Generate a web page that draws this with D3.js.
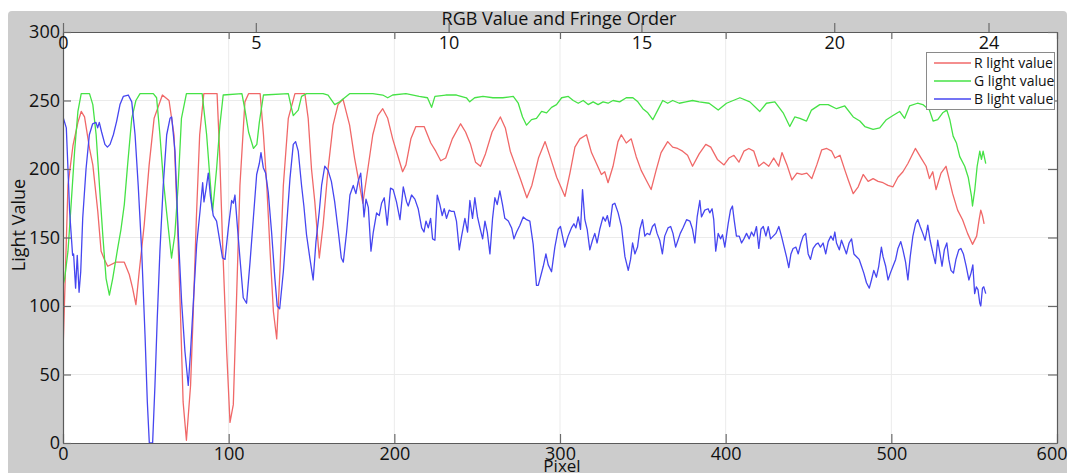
<!DOCTYPE html>
<html>
<head>
<meta charset="utf-8">
<script src="https://cdn.jsdelivr.net/npm/d3@7"></script>
<style>
  body { margin: 0; background: #fff; }
  svg { display: block; font-family: "Open Sans", sans-serif; }
</style>
</head>
<body>
<div id="chart"></div>
<script>
// [pixel, light value]
const redData = [[0,66],[3,188],[6,217],[9,234],[11,242],[13,238],[16,215],[18,203],[21,169],[23,140],[25,134],[27,129],[32,132],[37,132],[40,123],[42,113],[44,101],[46,125],[49,159],[52,203],[55,237],[60,254],[64,250],[67,225],[69,164],[71,91],[72.5,30],[74.5,2],[77,42],[78.5,91],[80.5,164],[82.5,225],[85,255],[93,255],[94.5,213],[96.5,140],[98.8,67],[100.8,15],[102.8,28],[104.4,91],[106.8,188],[109.8,249],[112,255],[119,255],[121,225],[123,188],[125,140],[127,96],[129,76],[131,127],[133,188],[136,237],[140,255],[146,255],[148,237],[150,200],[152,176],[154.7,135],[157,159],[160,200],[163,232],[166,247],[169,251],[173,232],[176,208],[179,188],[181,175],[184,200],[187,225],[190,239],[193,244],[196,237],[199,222],[202,210],[205,198],[207,203],[210,222],[213,231],[218,231],[220,225],[222,219],[225,213],[228,206],[231,208],[235,222],[240,233],[243,227],[246,218],[249,205],[252,202],[255,211],[259,227],[264,238],[267,230],[270,213],[273,203],[276,193],[280,179],[283,188],[287,208],[291,220],[294,209],[298,194],[303,180],[306,197],[309,216],[312,222],[316,225],[319,212],[322,204],[325,196],[327,198],[329,190],[332,202],[335,220],[337,225],[340,219],[343,222],[346,209],[349,199],[352,192],[355,185],[358,199],[361,212],[365,220],[368,216],[371,215],[374,213],[377,210],[380,202],[384,211],[388,218],[391,216],[395,207],[399,203],[402,208],[405,210],[408,205],[411,213],[414,215],[417,213],[420,202],[423,205],[426,202],[429,208],[432,202],[434,212],[437,203],[440,192],[443,197],[446,196],[449,197],[452,193],[455,203],[458,214],[461,215],[464,213],[466,208],[469,210],[472,199],[474,192],[477,182],[480,187],[483,196],[486,191],[489,193],[492,191],[495,190],[498,188],[501,187],[504,194],[507,198],[510,204],[514.5,215],[518,208],[521,202],[523,193],[525,198],[527,185],[530,197],[533,202],[535,192],[537,182],[540,170],[543,163],[546,153],[549,145],[551.5,151],[553,163],[554,170],[555,166],[556,160]];

const greenData = [[0,115],[1,120],[3,140],[5,176],[7,213],[9,242],[11,255],[16,255],[18,247],[20,225],[22,188],[24,152],[26,120],[28,108],[30,120],[33,142],[35,156],[37,174],[39,203],[41.5,237],[44,250],[46.5,255],[54.5,255],[56.5,252],[58.5,225],[60.5,193],[62.5,169],[65.5,135],[67.5,152],[69.5,188],[71.5,237],[74.5,255],[84,255],[86.7,225],[88.7,193],[90.3,169],[92.7,200],[94.7,232],[96.7,254],[108,255],[110,242],[112,227],[115,215],[117,218],[118.5,234],[121,254],[136,255],[138,244],[139,239],[142,243],[144,253],[147,255],[157,255],[160,254],[164,247],[167,249],[170,252],[173,255],[187,255],[193,254],[196,252],[199,254],[207,255],[215,253],[220,252],[222.5,245],[224.5,253],[231,254],[237.5,254],[243.5,252],[245.5,249],[248.5,252],[253.5,253],[259.5,252],[265.5,252],[271.8,253],[274.8,248],[277.4,238],[279.8,232],[282.8,236],[285.8,237],[288.9,242],[291.9,241],[294.9,245],[297.9,247],[301,252],[305,253],[308,250],[311,248],[314,250],[317,247],[320,249],[323,247],[326,249],[329,248],[332,250],[336,249],[340,252],[344,252],[347,249],[350,244],[353,241],[356,236],[359,243],[362,250],[365,248],[368,250],[372,248],[376,249],[380,250],[384,249],[390,248],[395.5,243],[400.5,248],[408.6,252],[414.6,249],[420.6,242],[424.6,248],[429.7,249],[434.7,241],[438.7,231],[441.7,238],[444.8,237],[448.8,235],[451.8,243],[456.8,247],[461.9,247],[466.9,244],[471.9,246],[477,238],[481,235],[484,231],[489,229],[493,230],[497,236],[501,239],[505,242],[508,237],[511,246],[515.8,248],[519,247],[523,243],[525.2,235],[528,236],[531,241],[533.5,243],[535.3,236],[537.3,224],[539.3,219],[541.3,209],[544.3,202],[546.4,194],[548.4,180],[549,173],[550.4,185],[551.8,202],[553.4,213],[554.4,207],[555.4,213],[557,204]];

const blueData = [[0,238],[2,230],[3,200],[4,169],[5.8,137],[6.4,138],[7.6,113],[8.6,137],[9.7,110],[10.7,125],[11.9,164],[13.9,200],[15.9,225],[17.9,233],[19.9,234],[20.9,230],[21.9,234],[23.3,227],[25.3,218],[26.8,216],[28.4,218],[30.4,225],[32.4,235],[34.4,247],[36.4,253],[39.4,254],[41.5,249],[43.5,225],[45.4,188],[47.5,140],[49.5,79],[50.9,30],[52.1,0],[54.1,0],[55.5,42],[56.9,91],[58.5,140],[60.5,188],[62.6,225],[64.6,237],[65.6,238],[67.6,213],[69.6,152],[71.6,103],[73.6,67],[75.6,42],[77,67],[78.7,103],[80.7,145],[82.7,169],[84.3,190],[85.1,176],[86.3,185],[87.7,197],[89,180],[90.7,166],[92.7,162],[94.7,147],[96.3,135],[97.8,134],[99.8,157],[101.8,177],[102.8,175],[103.8,181],[105.2,159],[106.8,135],[108.8,106],[110.8,102],[112.9,132],[114.9,164],[116.9,196],[118.5,204],[119.5,212],[120.9,201],[122.3,197],[123.9,183],[125.9,154],[127.9,120],[129.3,100],[130.8,98],[133,125],[135,159],[137,193],[139,218],[140.4,220],[142,213],[144,188],[145.4,173],[147,152],[149,135],[151,119],[152.7,147],[154.7,169],[156.1,188],[158,202],[160,199],[162,191],[164,176],[166.2,154],[168,135],[169.2,132],[171.2,154],[173.2,181],[175.2,188],[176.8,182],[178.2,191],[179.7,197],[180.9,179],[181.7,165],[182.9,178],[184.3,172],[185.9,140],[187.3,154],[189.3,168],[190.9,166],[192.3,175],[193.9,179],[195.7,159],[197.7,186],[199.3,185],[201.3,176],[203.4,163],[205.4,187],[207.4,176],[208.4,173],[210.4,181],[212.4,178],[214.4,171],[216.5,157],[217.9,154],[219.1,162],[220.5,157],[221.9,164],[223.1,149],[224.5,148],[225.9,181],[227.5,174],[228.9,166],[230.1,171],[231.5,164],[233.1,170],[234.5,169],[236.1,169],[237.5,162],[239.2,141],[240.6,151],[242.6,164],[244.2,154],[245.6,177],[247.2,164],[248.6,179],[250.2,165],[251.7,157],[253.3,149],[254.7,162],[256.1,154],[257.7,138],[259.3,164],[260.7,179],[262.1,174],[263.7,184],[265.3,174],[266.7,164],[268.8,162],[270.8,157],[272.2,149],[273.8,154],[275.8,159],[277.8,165],[279.8,163],[281.8,162],[283.8,145],[285.8,115],[286.9,115],[289.9,129],[291.5,138],[292.9,130],[294.9,125],[296.9,143],[298.9,156],[300.3,158],[301.5,151],[302.9,143],[304.9,151],[306.9,157],[308.4,160],[309.6,157],[311,165],[312.4,156],[313.6,185],[315,163],[316.4,156],[318,141],[319.6,148],[321,153],[322.4,146],[324,156],[326,165],[327.4,162],[328.6,166],[330,158],[331.7,174],[333.1,175],[335.1,168],[337.1,158],[339.2,136],[341.2,126],[342.6,134],[343.8,146],[345.2,138],[346.8,143],[348.2,156],[349.8,163],[351.2,151],[352.6,153],[354.2,152],[355.8,158],[357.2,160],[358.6,153],[360.2,148],[361.8,138],[363.2,151],[365.2,157],[366.8,158],[368.2,153],[369.8,143],[371.2,148],[372.6,153],[374.2,157],[376.4,163],[378.4,162],[380,156],[381.4,146],[382.8,165],[384.4,177],[385.4,165],[387.4,170],[389.4,171],[390.4,168],[391.8,171],[392.8,163],[394,140],[395.5,153],[396.9,149],[398.1,152],[399.5,143],[401.5,160],[402.9,170],[404.1,173],[405.1,163],[406.5,151],[408.2,151],[409.6,146],[411,149],[412.6,153],[414.2,149],[415.6,154],[417,151],[418.6,158],[420,142],[421.3,156],[422.7,158],[424.3,151],[425.7,158],[427.1,149],[428.7,151],[430.3,153],[432.1,158],[433.7,151],[435.3,143],[436.7,136],[438.1,128],[439.4,138],[440.7,142],[442.4,143],[443.8,138],[445.4,146],[446.8,151],[448.3,153],[449.8,138],[451.2,134],[452.8,142],[454.5,145],[455.8,146],[457.2,143],[458.8,146],[460.4,138],[461.9,147],[463.5,151],[464.9,148],[465.9,154],[466.9,146],[468.6,141],[469.9,148],[471.4,143],[472.9,138],[474.5,146],[476,149],[477.4,138],[479,136],[480.6,134],[482,129],[483.4,124],[485,117],[486.7,113],[488,119],[489.4,126],[491,121],[492.4,129],[494,143],[495,136],[496.6,129],[498,119],[499.4,124],[501,129],[502.6,134],[504,142],[505.7,147],[507,141],[508.6,132],[510,119],[511.4,136],[513,151],[514.6,160],[516,163],[517.4,158],[519,153],[520.4,148],[522,159],[523.4,148],[525.2,138],[526.6,131],[528,148],[529.4,138],[530.6,129],[532,141],[533.5,146],[534.7,134],[536,126],[537.5,124],[539,134],[540.7,141],[542,142],[543.5,138],[545.2,129],[546.8,119],[548.1,124],[549.2,130],[550.3,109],[551.3,114],[552.3,112],[553.4,102],[554,100],[555,113],[555.8,114],[557,109]];

const seriesNames = ["R light value", "G light value", "B light value"];
const seriesColors = ["#f06868", "#46e246", "#4646f0"];
const pixelTicks = [0, 100, 200, 300, 400, 500, 600];
const valueTicks = [0, 50, 100, 150, 200, 250, 300];
const fringeTicks = [0, 5, 10, 15, 20, 24];

const W = 1068, H = 473;
const plot = {left: 63, right: 1057, top: 32, bottom: 443};

const svg = d3.select("#chart").append("svg")
  .attr("width", W)
  .attr("height", H);

// grey figure background
svg.append("rect")
  .attr("x", 8).attr("y", 11)
  .attr("width", 1059).attr("height", 470)
  .attr("rx", 4)
  .attr("fill", "#cccccc");

svg.append("rect")
  .attr("x", plot.left).attr("y", plot.top)
  .attr("width", plot.right - plot.left).attr("height", plot.bottom - plot.top)
  .attr("fill", "#fff");

const x = d3.scaleLinear().domain([0, 600]).range([plot.left, plot.right]);
const y = d3.scaleLinear().domain([0, 300]).range([plot.bottom, plot.top]);
const fringe = d3.scaleLinear().domain([0, 24]).range([plot.left, 988.5]);

// grid
svg.append("g")
  .selectAll("line.vg")
  .data(pixelTicks.slice(1, -1))
  .enter().append("line")
  .attr("x1", d => x(d)).attr("x2", d => x(d))
  .attr("y1", plot.top).attr("y2", plot.bottom)
  .attr("stroke", "#ebebeb");

svg.append("g")
  .selectAll("line.hg")
  .data(valueTicks.slice(1, -1))
  .enter().append("line")
  .attr("x1", plot.left).attr("x2", plot.right)
  .attr("y1", d => y(d)).attr("y2", d => y(d))
  .attr("stroke", "#ebebeb");

// data lines
svg.append("clipPath").attr("id", "clip")
  .append("rect")
  .attr("x", plot.left).attr("y", plot.top)
  .attr("width", plot.right - plot.left).attr("height", plot.bottom - plot.top);

const line = d3.line()
  .x(d => x(d[0]))
  .y(d => y(d[1]));

const lines = svg.append("g").attr("clip-path", "url(#clip)");
[redData, greenData, blueData].forEach(function(data, i) {
  lines.append("path")
    .datum(data)
    .attr("d", line)
    .attr("fill", "none")
    .attr("stroke", seriesColors[i])
    .attr("stroke-width", 1.3)
    .attr("stroke-linejoin", "round");
});

// axes
function styleAxis(g) {
  g.selectAll(".domain").attr("stroke", "#5a5a5a").attr("stroke-width", 1.2);
  g.selectAll(".tick line").attr("stroke", "#6a6a6a").attr("stroke-width", 1.2);
  g.selectAll("text").attr("font-size", 18).attr("fill", "#111")
    .attr("font-family", "Open Sans, sans-serif");
}

const bottomAxis = svg.append("g")
  .attr("transform", "translate(0," + plot.bottom + ")")
  .call(d3.axisBottom(x).tickValues(pixelTicks).tickSize(-9).tickSizeOuter(0).tickPadding(4))
  .call(styleAxis);
// last label sits against the window edge, as in the original
bottomAxis.selectAll(".tick text").filter(d => d === 600)
  .attr("text-anchor", "end").attr("x", 10);

svg.append("g")
  .attr("transform", "translate(0," + plot.top + ")")
  .call(d3.axisTop(x).tickValues(pixelTicks).tickSize(-7).tickSizeOuter(0).tickFormat(""))
  .call(styleAxis);

svg.append("g")
  .attr("transform", "translate(" + plot.left + ",0)")
  .call(d3.axisLeft(y).tickValues(valueTicks).tickSize(-8).tickSizeOuter(0).tickPadding(3))
  .call(styleAxis);

svg.append("g")
  .attr("transform", "translate(" + plot.right + ",0)")
  .call(d3.axisRight(y).tickValues(valueTicks).tickSize(-9).tickSizeOuter(0).tickFormat(""))
  .call(styleAxis);

const fringeAxis = svg.append("g")
  .attr("transform", "translate(0," + plot.top + ")")
  .call(d3.axisTop(fringe).tickValues(fringeTicks).tickSize(9).tickSizeOuter(0))
  .call(styleAxis);
fringeAxis.select(".domain").remove();
fringeAxis.selectAll("text").attr("y", 17).attr("dy", 0);

// titles
svg.append("text")
  .attr("x", 559).attr("y", 25)
  .attr("text-anchor", "middle")
  .attr("font-size", 18).attr("fill", "#111")
  .text("RGB Value and Fringe Order");

svg.append("text")
  .attr("x", 562).attr("y", 472)
  .attr("text-anchor", "middle")
  .attr("font-size", 17).attr("fill", "#111")
  .text("Pixel");

svg.append("text")
  .attr("transform", "translate(25,225) rotate(-90)")
  .attr("text-anchor", "middle")
  .attr("font-size", 18).attr("fill", "#111")
  .text("Light Value");

// legend
const legend = svg.append("g");
legend.append("rect")
  .attr("x", 926.5).attr("y", 52.5)
  .attr("width", 128).attr("height", 57)
  .attr("fill", "#fff")
  .attr("stroke", "#8a8a8a");

const rows = legend.selectAll("g.row")
  .data(seriesNames)
  .enter().append("g")
  .attr("transform", (d, i) => "translate(0," + (63 + i * 18) + ")");

rows.append("line")
  .attr("x1", 934).attr("x2", 971)
  .attr("stroke", (d, i) => seriesColors[i])
  .attr("stroke-width", 1.3);

rows.append("text")
  .attr("x", 974).attr("dy", "0.35em")
  .attr("font-size", 14).attr("fill", "#111")
  .text(d => d);
</script>
</body>
</html>
